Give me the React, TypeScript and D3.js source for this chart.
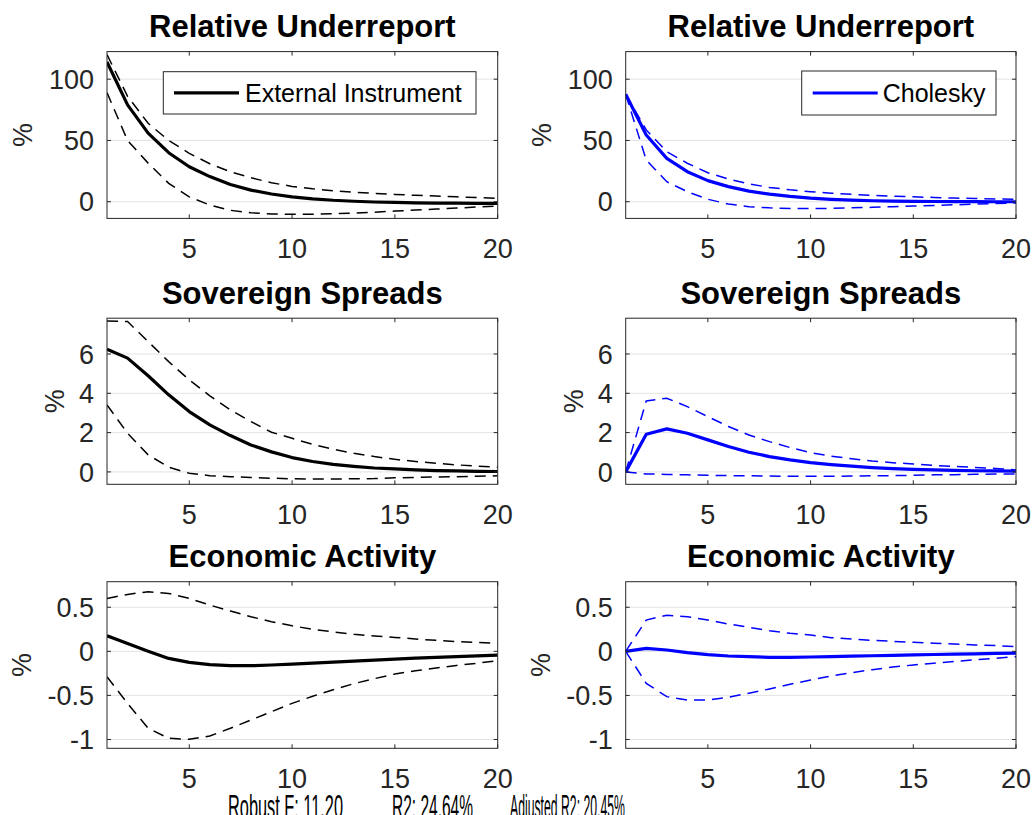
import React from "react";
import * as d3 from "d3";

// ---------- data ----------
const horizons = [1, 2, 3, 4, 5, 6, 7, 8, 9, 10, 11, 12, 13, 14, 15, 16, 17, 18, 19, 20];
const xTicks = [5, 10, 15, 20];

const rowTitles = ["Relative Underreport", "Sovereign Spreads", "Economic Activity"];
const legendLabels = ["External Instrument", "Cholesky"];
const yLabel = "%";

const yTicksUnder = [0, 50, 100];
const yTicksSpread = [0, 2, 4, 6];
const yTicksActivity = [-1, -0.5, 0, 0.5];
const yDomainUnder = [-13.6, 122.5];
const yDomainSpread = [-0.63, 7.82];
const yDomainActivity = [-1.1, 0.79];

// External instrument
const eiUnderMid = [114, 79, 56, 40, 28.5, 20.5, 14, 9.5, 6.3, 4, 2.4, 1.2, 0.4, -0.2, -0.6, -0.9, -1.1, -1.2, -1.3, -1.4];
const eiUnderHi = [120, 86, 64, 50, 39.5, 31, 24.5, 19.5, 15.5, 12.5, 10.5, 9, 7.8, 6.8, 6, 5.2, 4.6, 4, 3.4, 2.8];
const eiUnderLo = [89, 50, 31.5, 15, 4, -2.7, -7, -9, -10, -10.3, -10.2, -9.8, -9.2, -8.5, -7.6, -6.8, -6, -5.2, -4.3, -3.5];

const eiSpreadMid = [6.24, 5.79, 4.89, 3.92, 3.07, 2.39, 1.85, 1.37, 1.02, 0.73, 0.53, 0.38, 0.28, 0.2, 0.15, 0.1, 0.07, 0.05, 0.03, 0.02];
const eiSpreadHi = [7.68, 7.65, 6.63, 5.61, 4.68, 3.87, 3.16, 2.56, 2.02, 1.71, 1.4, 1.15, 0.95, 0.78, 0.64, 0.53, 0.44, 0.36, 0.29, 0.24];
const eiSpreadLo = [3.41, 1.97, 0.87, 0.24, -0.07, -0.19, -0.24, -0.28, -0.32, -0.35, -0.36, -0.36, -0.35, -0.34, -0.3, -0.28, -0.26, -0.24, -0.22, -0.2];

const eiActMid = [0.177, 0.09, 0.0, -0.08, -0.125, -0.15, -0.163, -0.163, -0.155, -0.144, -0.133, -0.122, -0.11, -0.1, -0.088, -0.078, -0.068, -0.06, -0.052, -0.042];
const eiActHi = [0.6, 0.646, 0.676, 0.657, 0.6, 0.525, 0.457, 0.393, 0.336, 0.29, 0.25, 0.22, 0.193, 0.174, 0.158, 0.14, 0.125, 0.11, 0.1, 0.09];
const eiActLo = [-0.288, -0.59, -0.873, -0.986, -0.998, -0.96, -0.873, -0.779, -0.685, -0.59, -0.51, -0.435, -0.367, -0.31, -0.257, -0.22, -0.19, -0.16, -0.135, -0.106];

// Cholesky
const chUnderMid = [87.7, 54.5, 35.4, 24.5, 17.2, 12.3, 8.7, 6.2, 4.4, 3, 2, 1.3, 0.8, 0.5, 0.3, 0.2, 0.1, 0.05, 0, 0];
const chUnderHi = [87.7, 58.6, 40.8, 31.4, 23.7, 18.5, 14.5, 11.7, 9.7, 8.2, 7, 6, 5.2, 4.5, 4, 3.5, 3, 2.6, 2.3, 2];
const chUnderLo = [87.7, 34, 16.3, 8.2, 2, -1.9, -4, -5, -5.5, -5.5, -5.4, -5, -4.6, -4, -3.5, -3, -2.5, -2, -1.5, -1];

const chSpreadMid = [0, 1.92, 2.19, 1.97, 1.63, 1.29, 1.0, 0.78, 0.61, 0.47, 0.37, 0.29, 0.22, 0.17, 0.13, 0.1, 0.08, 0.06, 0.05, 0.04];
const chSpreadHi = [0, 3.61, 3.75, 3.32, 2.81, 2.31, 1.88, 1.54, 1.24, 0.98, 0.8, 0.67, 0.55, 0.47, 0.4, 0.33, 0.28, 0.23, 0.18, 0.1];
const chSpreadLo = [0, -0.1, -0.13, -0.15, -0.17, -0.19, -0.2, -0.21, -0.22, -0.22, -0.22, -0.21, -0.2, -0.19, -0.17, -0.15, -0.14, -0.12, -0.11, -0.1];

const chActMid = [0, 0.034, 0.015, -0.015, -0.038, -0.053, -0.06, -0.068, -0.068, -0.064, -0.06, -0.055, -0.05, -0.045, -0.04, -0.036, -0.032, -0.028, -0.024, -0.02];
const chActHi = [0, 0.355, 0.41, 0.393, 0.355, 0.31, 0.272, 0.234, 0.204, 0.185, 0.155, 0.14, 0.125, 0.113, 0.102, 0.092, 0.082, 0.073, 0.065, 0.053];
const chActLo = [0, -0.363, -0.514, -0.552, -0.552, -0.52, -0.475, -0.427, -0.374, -0.325, -0.28, -0.242, -0.208, -0.178, -0.155, -0.135, -0.115, -0.095, -0.08, -0.06];

const statsLabels = ["Robust F: 11.20", "R2: 24.64%", "Adjusted R2: 20.45%"];

// ---------- layout ----------
const W = 1032;
const H = 815;
const FONT = "'Liberation Sans', Arial, Helvetica, sans-serif";
const AXIS_COLOR = "#262626";
const GRID_COLOR = "#e3e3e3";
const colX = [
  [107, 497.7],
  [625.7, 1016],
];
const rowY = [
  [51.6, 218.4],
  [318.2, 484.3],
  [581.7, 748.3],
];
const yLabelOffset = [84, 52, 85];
const colColors = ["#000000", "#0000ff"];

const rows = [
  { ticks: yTicksUnder, domain: yDomainUnder, series: [[eiUnderMid, eiUnderLo, eiUnderHi], [chUnderMid, chUnderLo, chUnderHi]] },
  { ticks: yTicksSpread, domain: yDomainSpread, series: [[eiSpreadMid, eiSpreadLo, eiSpreadHi], [chSpreadMid, chSpreadLo, chSpreadHi]] },
  { ticks: yTicksActivity, domain: yDomainActivity, series: [[eiActMid, eiActLo, eiActHi], [chActMid, chActLo, chActHi]] },
];

const legendBoxes = [
  { x0: 163.3, x1: 476, y0: 71.7, y1: 114, lx0: 174, lx1: 239, tx: 245 },
  { x0: 801.7, x1: 996, y0: 71, y1: 115, lx0: 812.7, lx1: 877.7, tx: 882.7 },
];
const statsPos = [
  { x: 228, w: 115 },
  { x: 392, w: 81 },
  { x: 510, w: 115 },
];

function Panel({ r, c }: { r: number; c: number }) {
  const row = rows[r];
  const [x0, x1] = colX[c];
  const [y0, y1] = rowY[r];
  const x = d3.scaleLinear().domain([1, 20]).range([x0, x1]);
  const y = d3.scaleLinear().domain(row.domain).range([y1, y0]);
  const [mid, lo, hi] = row.series[c];
  const color = colColors[c];
  const line = d3
    .line<number>()
    .x((_, i) => x(horizons[i]))
    .y((d) => y(d));
  const clipId = `clip-${r}-${c}`;
  const tl = 4;
  return (
    <g>
      <defs>
        <clipPath id={clipId}>
          <rect x={x0} y={y0} width={x1 - x0} height={y1 - y0} />
        </clipPath>
      </defs>
      <rect x={x0} y={y0} width={x1 - x0} height={y1 - y0} fill="#fff" />
      {row.ticks.map((t) => (
        <line key={"g" + t} x1={x0} x2={x1} y1={y(t)} y2={y(t)} stroke={GRID_COLOR} strokeWidth={1} />
      ))}
      <g clipPath={`url(#${clipId})`}>
        <path d={line(hi) || ""} fill="none" stroke={color} strokeWidth={1.5} strokeDasharray="11,7" />
        <path d={line(lo) || ""} fill="none" stroke={color} strokeWidth={1.5} strokeDasharray="11,7" />
        <path d={line(mid) || ""} fill="none" stroke={color} strokeWidth={3.2} strokeLinejoin="round" />
      </g>
      {xTicks.map((t) => (
        <g key={"xt" + t}>
          <line x1={x(t)} x2={x(t)} y1={y1} y2={y1 - tl} stroke={AXIS_COLOR} />
          <line x1={x(t)} x2={x(t)} y1={y0} y2={y0 + tl} stroke={AXIS_COLOR} />
          <text x={x(t)} y={y1 + 40} textAnchor="middle" fontSize={27} fill={AXIS_COLOR} fontFamily={FONT}>
            {t}
          </text>
        </g>
      ))}
      {row.ticks.map((t) => (
        <g key={"yt" + t}>
          <line x1={x0} x2={x0 + tl} y1={y(t)} y2={y(t)} stroke={AXIS_COLOR} />
          <line x1={x1} x2={x1 - tl} y1={y(t)} y2={y(t)} stroke={AXIS_COLOR} />
          <text x={x0 - 13} y={y(t) + 9.6} textAnchor="end" fontSize={27} fill={AXIS_COLOR} fontFamily={FONT}>
            {String(t)}
          </text>
        </g>
      ))}
      <rect x={x0} y={y0} width={x1 - x0} height={y1 - y0} fill="none" stroke={AXIS_COLOR} strokeWidth={1} />
      <text
        transform={`translate(${x0 - yLabelOffset[r]},${(y0 + y1) / 2}) rotate(-90)`}
        textAnchor="middle"
        dy="0.35em"
        fontSize={27}
        fill={AXIS_COLOR}
        fontFamily={FONT}
      >
        {yLabel}
      </text>
      <text x={(x0 + x1) / 2} y={y0 - 14.3} textAnchor="middle" fontSize={31} fontWeight="bold" fill="#000" fontFamily={FONT}>
        {rowTitles[r]}
      </text>
      {r === 0 && (
        <g>
          <rect
            x={legendBoxes[c].x0}
            y={legendBoxes[c].y0}
            width={legendBoxes[c].x1 - legendBoxes[c].x0}
            height={legendBoxes[c].y1 - legendBoxes[c].y0}
            fill="#fff"
            stroke={AXIS_COLOR}
            strokeWidth={1}
          />
          <line
            x1={legendBoxes[c].lx0}
            x2={legendBoxes[c].lx1}
            y1={(legendBoxes[c].y0 + legendBoxes[c].y1) / 2}
            y2={(legendBoxes[c].y0 + legendBoxes[c].y1) / 2}
            stroke={color}
            strokeWidth={3.2}
          />
          <text
            x={legendBoxes[c].tx}
            y={(legendBoxes[c].y0 + legendBoxes[c].y1) / 2 + 9}
            fontSize={25}
            fill="#000"
            fontFamily={FONT}
          >
            {legendLabels[c]}
          </text>
        </g>
      )}
    </g>
  );
}

export default function App() {
  return (
    <svg
      width={W}
      height={H}
      viewBox={`0 0 ${W} ${H}`}
      style={{ position: "absolute", left: 0, top: 0, background: "#fff" }}
    >
      <rect x={0} y={0} width={W} height={H} fill="#fff" />
      {[0, 1, 2].map((r) => [0, 1].map((c) => <Panel key={`${r}-${c}`} r={r} c={c} />))}
      {statsLabels.map((s, i) => (
        <text
          key={s}
          x={statsPos[i].x}
          y={817.5}
          fontSize={33}
          fill="#000"
          fontFamily={FONT}
          textLength={statsPos[i].w}
          lengthAdjust="spacingAndGlyphs"
        >
          {s}
        </text>
      ))}
    </svg>
  );
}
